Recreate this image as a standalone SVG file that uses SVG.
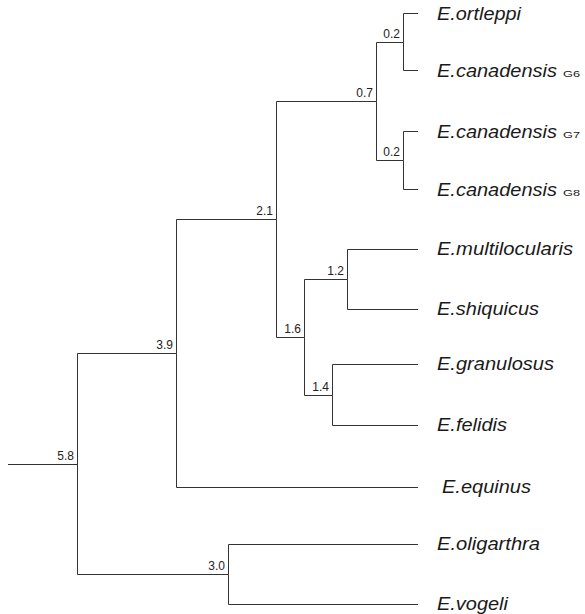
<svg xmlns="http://www.w3.org/2000/svg" width="585" height="614" viewBox="0 0 585 614">
  <style>
    .edge { fill: none; stroke: #333; stroke-width: 1; }
    .taxon { font-family: "Liberation Sans", Arial, sans-serif; font-style: italic; font-size: 18.5px; fill: #1a1a1a; }
    .geno { font-family: "Liberation Sans", Arial, sans-serif; font-size: 9px; fill: #1a1a1a; }
    .age { font-family: "Liberation Sans", Arial, sans-serif; font-size: 12px; fill: #222; text-anchor: end; }
  </style>
  <rect width="585" height="614" fill="#ffffff"/>

  <!-- tree branches (rectangular cladogram) -->
  <g id="connectors">
    <path class="edge" d="M8 464.5H77.5"/>
    <path class="edge" d="M77.5 353.5V574.5"/>
    <path class="edge" d="M77.5 353.5H176.5V219.5M176.5 353.5V487.5H418"/>
    <path class="edge" d="M176.5 219.5H276.5V101.5M276.5 219.5V337.5"/>
    <path class="edge" d="M276.5 101.5H376.5V42.5M376.5 101.5V160.5"/>
    <path class="edge" d="M376.5 42.5H403.5V13.5H418M403.5 42.5V70.5H418"/>
    <path class="edge" d="M376.5 160.5H403.5V131.5H418M403.5 160.5V189.5H418"/>
    <path class="edge" d="M276.5 337.5H304.5V279.5M304.5 337.5V395.5"/>
    <path class="edge" d="M304.5 279.5H347.5V249.5H418M347.5 279.5V309.5H418"/>
    <path class="edge" d="M304.5 395.5H332.5V364.5H418M332.5 395.5V425.5H418"/>
    <path class="edge" d="M77.5 574.5H228.5V544.5H418M228.5 574.5V604.5H418"/>
  </g>

  <!-- internal nodes with divergence times -->
  <g id="node-5.8"><text class="age" x="74" y="460">5.8</text></g>
  <g id="node-3.9"><text class="age" x="173" y="349">3.9</text></g>
  <g id="node-3.0"><text class="age" x="225" y="570">3.0</text></g>
  <g id="node-2.1"><text class="age" x="273" y="215">2.1</text></g>
  <g id="node-0.7"><text class="age" x="373" y="97">0.7</text></g>
  <g id="node-0.2a"><text class="age" x="400" y="38">0.2</text></g>
  <g id="node-0.2b"><text class="age" x="400" y="156">0.2</text></g>
  <g id="node-1.6"><text class="age" x="301" y="333">1.6</text></g>
  <g id="node-1.2"><text class="age" x="344" y="275">1.2</text></g>
  <g id="node-1.4"><text class="age" x="329" y="391">1.4</text></g>

  <!-- leaves -->
  <g id="ortleppi"><text class="taxon" x="437" y="19.5" textLength="84" lengthAdjust="spacingAndGlyphs">E.ortleppi</text></g>
  <g id="canadensis-G6">
    <text class="taxon" x="437" y="76.5" textLength="120" lengthAdjust="spacingAndGlyphs">E.canadensis</text>
    <text class="geno" x="563" y="76.5" textLength="17" lengthAdjust="spacingAndGlyphs">G6</text>
  </g>
  <g id="canadensis-G7">
    <text class="taxon" x="437" y="137.5" textLength="120" lengthAdjust="spacingAndGlyphs">E.canadensis</text>
    <text class="geno" x="563" y="137.5" textLength="17" lengthAdjust="spacingAndGlyphs">G7</text>
  </g>
  <g id="canadensis-G8">
    <text class="taxon" x="437" y="195.5" textLength="120" lengthAdjust="spacingAndGlyphs">E.canadensis</text>
    <text class="geno" x="563" y="195.5" textLength="17" lengthAdjust="spacingAndGlyphs">G8</text>
  </g>
  <g id="multilocularis"><text class="taxon" x="437" y="255" textLength="136" lengthAdjust="spacingAndGlyphs">E.multilocularis</text></g>
  <g id="shiquicus"><text class="taxon" x="437" y="315" textLength="102" lengthAdjust="spacingAndGlyphs">E.shiquicus</text></g>
  <g id="granulosus"><text class="taxon" x="437" y="370" textLength="117" lengthAdjust="spacingAndGlyphs">E.granulosus</text></g>
  <g id="felidis"><text class="taxon" x="437" y="431" textLength="70" lengthAdjust="spacingAndGlyphs">E.felidis</text></g>
  <g id="equinus"><text class="taxon" x="442" y="493" textLength="89" lengthAdjust="spacingAndGlyphs">E.equinus</text></g>
  <g id="oligarthra"><text class="taxon" x="437" y="550" textLength="103" lengthAdjust="spacingAndGlyphs">E.oligarthra</text></g>
  <g id="vogeli"><text class="taxon" x="437" y="610" textLength="71" lengthAdjust="spacingAndGlyphs">E.vogeli</text></g>
</svg>
